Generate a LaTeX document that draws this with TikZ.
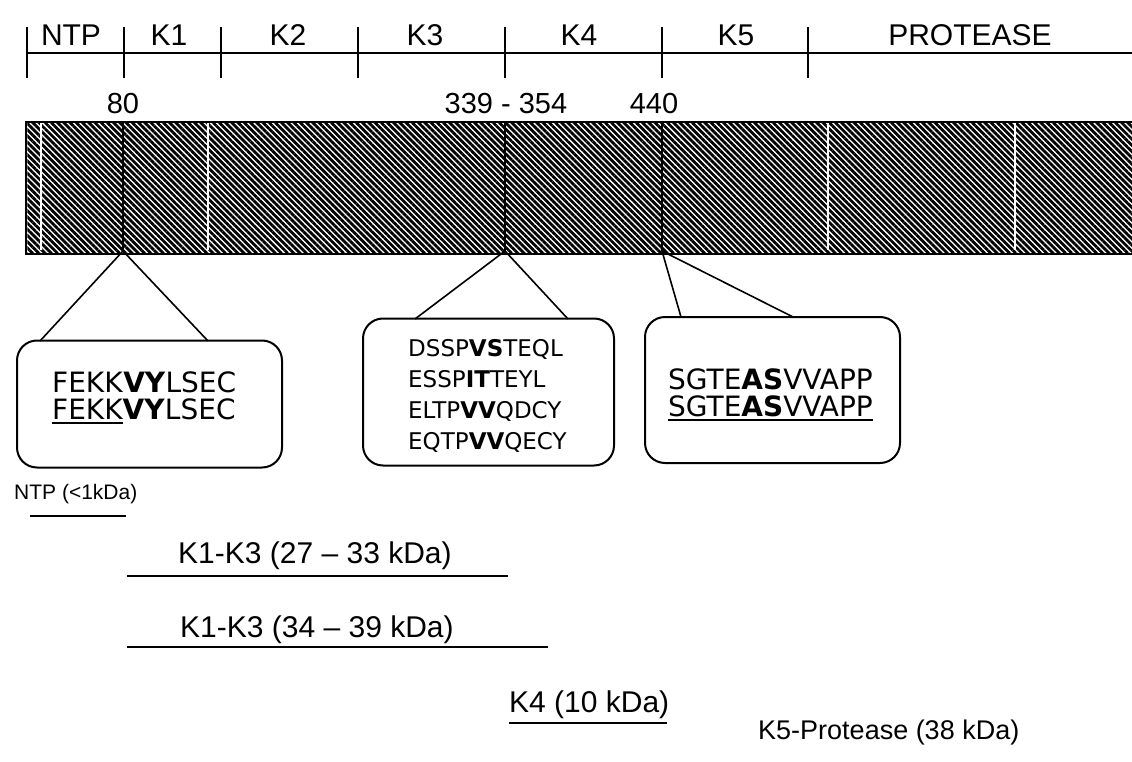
\documentclass[tikz,border=0pt]{standalone}
\usepackage{fontspec}
\setmainfont{Liberation Sans}
\newfontfamily\seqfont{DejaVu Sans}
\usetikzlibrary{patterns.meta}
\newcommand{\ulseq}[1]{\setbox0=\hbox{#1}\rlap{\rule[-4pt]{\wd0}{1.8pt}}\box0}
\begin{document}
\begin{tikzpicture}[x=1pt,y=-1pt,
  blk/.style={line width=2pt},
  conn/.style={line width=1.6pt},
  toplbl/.style={font=\fontsize{30}{34}\selectfont, inner sep=0pt, anchor=base},
  num/.style={font=\fontsize{29}{34}\selectfont, inner sep=0pt, anchor=base},
  frag/.style={font=\fontsize{30}{34}\selectfont, inner sep=0pt, anchor=base west},
  fragK5/.style={font=\fontsize{27}{32}\selectfont, inner sep=0pt, anchor=base west},
  fragsmall/.style={font=\fontsize{21}{24}\selectfont, inner sep=0pt, anchor=base west},
  seqbox/.style={draw, line width=2pt, rounded corners=20pt, inner sep=0pt},
  seqA/.style={font=\seqfont\fontsize{28}{27}\selectfont, align=left, inner sep=0pt, anchor=west},
  seqB/.style={font=\seqfont\fontsize{23}{31}\selectfont, align=left, inner sep=0pt, anchor=west},
  seam/.style={white, line width=1.2pt},
]
\useasboundingbox (0,0) rectangle (1132,762);

% domain scale
\coordinate (sL) at (27,53);
\coordinate (sR) at (1132,53);
\draw[blk] (sL) -- (sR);
\foreach \x in {27,124,221,358,505,662,808} \draw[blk] (\x,27) -- (\x,78);
\node[toplbl] (lNTP) at (71,46) {NTP};
\node[toplbl] (lK1) at (169,46) {K1};
\node[toplbl] (lK2) at (288,46) {K2};
\node[toplbl] (lK3) at (425,46) {K3};
\node[toplbl] (lK4) at (579,46) {K4};
\node[toplbl] (lK5) at (736,46) {K5};
\node[toplbl] (lPRO) at (970,46) {PROTEASE};

% positions
\node[num] (n80) at (123,114) {80};
\node[num] (n339) at (506,114) {339 - 354};
\node[num] (n440) at (654,114) {440};

% hatched bar
\node[pattern={Lines[angle=-45,distance=4.4pt,line width=2.8pt]}, minimum width=1106pt, minimum height=129pt, inner sep=0pt, anchor=north west] (bar) at (26,122) {};
\foreach \x in {41,208,828,1015} \draw[seam] (\x,123) -- (\x,250);
\draw[blk] (bar.north east) -- (bar.north west) -- (bar.south west) -- (bar.south east);
\coordinate (t80) at (123,122);   \coordinate (k80) at (123,251);
\coordinate (t339) at (505,122);  \coordinate (k339) at (505,251);
\coordinate (t440) at (662,122);  \coordinate (k440) at (662,251);
\draw[blk] (t80) -- (k80);
\draw[blk] (t339) -- (k339);
\draw[blk] (t440) -- (k440);

% sequence boxes
\node[seqbox, minimum width=265pt, minimum height=127pt] (b1) at (149.5,404) {};
\node[seqbox, minimum width=251pt, minimum height=147pt] (b2) at (488.5,392) {};
\node[seqbox, minimum width=255pt, minimum height=146pt] (b3) at (772.5,390) {};

\coordinate (b1l) at (40,341);  \coordinate (b1r) at (208,341);
\coordinate (b2l) at (415,319); \coordinate (b2r) at (568,319);
\coordinate (b3l) at (681,317); \coordinate (b3r) at (793,317);
\draw[conn] (b1l) -- (k80) -- (b1r);
\draw[conn] (b2l) -- (k339) -- (b2r);
\draw[conn] (b3l) -- (k440) -- (b3r);

\node[seqA] (s1) at (52,398) {FEKK\textbf{VY}LSEC\\\ulseq{FEKK}\textbf{VY}LSEC};
\node[seqB] (s2) at (408,396) {DSSP\textbf{VS}TEQL\\ESSP\textbf{IT}TEYL\\ELTP\textbf{VV}QDCY\\EQTP\textbf{VV}QECY};
\node[seqA] (s3) at (668,395) {SGTE\textbf{AS}VVAPP\\\ulseq{SGTE\textbf{AS}VVAPP}};

% fragments
\node[fragsmall] (fNTP) at (14,499) {NTP (<1kDa)};
\coordinate (uNTPa) at (30,516);  \coordinate (uNTPb) at (126,516);
\draw[blk] (uNTPa) -- (uNTPb);
\node[frag] (fA) at (178,563) {K1-K3 (27 – 33 kDa)};
\coordinate (uAa) at (127,576);  \coordinate (uAb) at (508,576);
\draw[blk] (uAa) -- (uAb);
\node[frag] (fB) at (180,637) {K1-K3 (34 – 39 kDa)};
\coordinate (uBa) at (127,647);  \coordinate (uBb) at (548,647);
\draw[blk] (uBa) -- (uBb);
\node[frag] (fK4) at (509,712) {K4 (10 kDa)};
\coordinate (uK4a) at (509,723);  \coordinate (uK4b) at (667,723);
\draw[blk] (uK4a) -- (uK4b);
\node[fragK5] (fK5) at (758,739) {K5-Protease (38 kDa)};
\end{tikzpicture}
\end{document}
